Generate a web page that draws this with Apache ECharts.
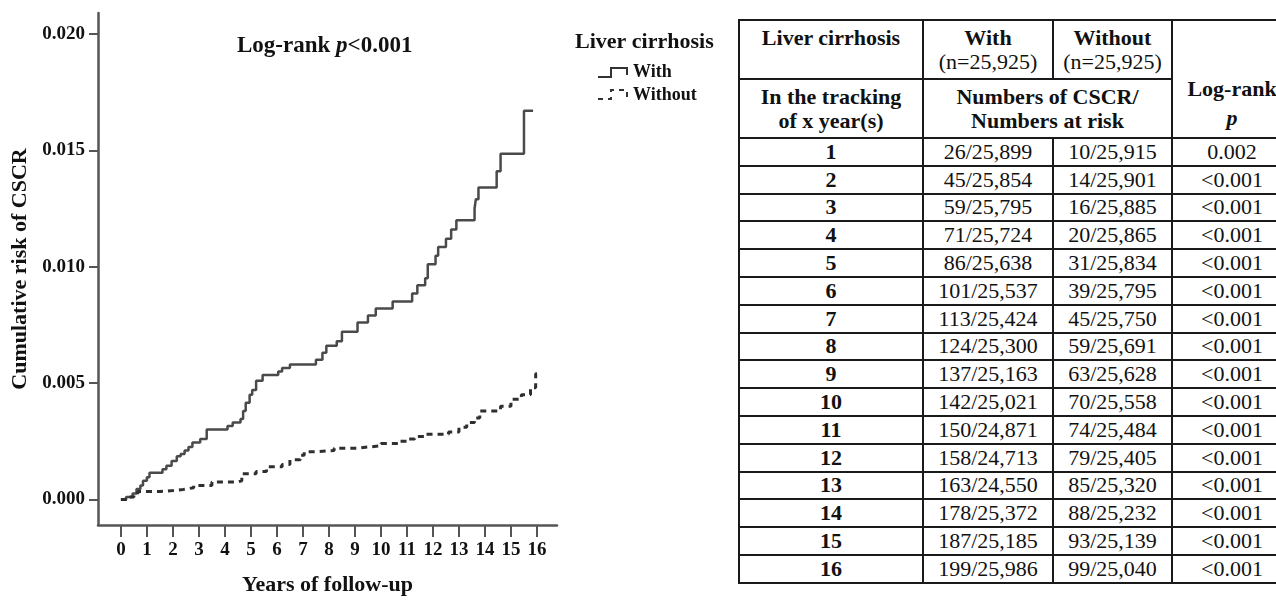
<!DOCTYPE html>
<html>
<head>
<meta charset="utf-8">
<script src="https://cdn.jsdelivr.net/npm/echarts@6/dist/echarts.min.js"></script>
<style>
  html, body { margin: 0; padding: 0; background: #fff; overflow: hidden; width: 1276px; height: 601px; }
  #chart { position: absolute; left: 0; top: 0; width: 730px; height: 601px; }
  #tbl {
    position: absolute; left: 738px; top: 19px; width: 553px;
    border-collapse: collapse; table-layout: fixed;
    font-family: "Liberation Serif", "Times New Roman", serif; font-size: 22px; color: #111;
  }
  #tbl td, #tbl th { border: 2px solid #1a1a1a; padding: 0; text-align: center; line-height: 24px; }
  #tbl th { font-weight: bold; vertical-align: top; padding-top: 5px; }
  #tbl .n { font-weight: normal; }
  #tbl th.lr { padding-top: 53px; line-height: 29px; }
  #tbl td { height: 25.8px; line-height: 24px; }
  #tbl td.yr { font-weight: bold; }
</style>
</head>
<body>
<div id="chart"></div>
<table id="tbl"></table>
<script>
// Kaplan-Meier style cumulative risk
var withTime = [0, 0.2, 0.45, 0.6, 0.75, 0.85, 1.0, 1.1, 1.6, 1.75, 1.95, 2.15, 2.3, 2.45, 2.6, 2.75, 3.05, 3.3,
    4.1, 4.3, 4.6, 4.7, 4.8, 4.95, 5.05, 5.2, 5.45, 6.05, 6.2, 6.5, 7.5, 7.75, 7.9, 8.3, 8.5, 9.1, 9.5, 9.8,
    10.45, 11.2, 11.4, 11.7, 11.8, 12.1, 12.2, 12.5, 12.7, 12.9, 13.6, 13.65, 13.75, 14.45, 14.6, 15.5, 15.85];
var withRisk = [0, 0.0001, 0.00025, 0.00045, 0.0006, 0.0008, 0.00095, 0.00115, 0.0013, 0.00145, 0.00165, 0.00185,
    0.00195, 0.0021, 0.00225, 0.00245, 0.0026, 0.003, 0.00315, 0.0033, 0.00345, 0.0038, 0.00415, 0.0045, 0.0047,
    0.0051, 0.00535, 0.0055, 0.00565, 0.0058, 0.006, 0.0063, 0.0066, 0.0068, 0.0072, 0.0076, 0.0079, 0.0082,
    0.0085, 0.00885, 0.0092, 0.0095, 0.0101, 0.01047, 0.01085, 0.0112, 0.0116, 0.012, 0.0125, 0.0129, 0.0134,
    0.0141, 0.01485, 0.0167, 0.0167];
var withoutTime = [0, 0.3, 0.5, 0.65, 1.5, 2.0, 2.4, 2.8, 3.5, 4.5, 4.65, 5.2, 5.6, 6.2, 6.5, 6.9, 7.05, 7.5, 8.2,
    9.1, 9.5, 10.0, 10.7, 11.0, 11.3, 11.7, 12.6, 13.0, 13.3, 13.6, 13.8, 14.6, 15.0, 15.4, 15.75, 15.95, 16.0];
var withoutRisk = [0, 0.0001, 0.0002, 0.00034, 0.00038, 0.00043, 0.0005, 0.0006, 0.00075, 0.0008, 0.0011, 0.0012,
    0.0014, 0.0015, 0.0017, 0.0019, 0.00205, 0.0021, 0.0022, 0.00225, 0.0023, 0.0024, 0.0025, 0.0026, 0.0027,
    0.0028, 0.0029, 0.0031, 0.0033, 0.0035, 0.0038, 0.004, 0.0043, 0.0045, 0.0048, 0.0054, 0.0054];

var xTicks = [0, 1, 2, 3, 4, 5, 6, 7, 8, 9, 10, 11, 12, 13, 14, 15, 16];
var yTicks = [0, 0.005, 0.010, 0.015, 0.020];

// table
var tableYears = [1, 2, 3, 4, 5, 6, 7, 8, 9, 10, 11, 12, 13, 14, 15, 16];
var withCounts = ['26/25,899', '45/25,854', '59/25,795', '71/25,724', '86/25,638', '101/25,537', '113/25,424',
    '124/25,300', '137/25,163', '142/25,021', '150/24,871', '158/24,713', '163/24,550', '178/25,372',
    '187/25,185', '199/25,986'];
var withoutCounts = ['10/25,915', '14/25,901', '16/25,885', '20/25,865', '31/25,834', '39/25,795', '45/25,750',
    '59/25,691', '63/25,628', '70/25,558', '74/25,484', '79/25,405', '85/25,320', '88/25,232', '93/25,139',
    '99/25,040'];
var logRankP = ['0.002', '<0.001', '<0.001', '<0.001', '<0.001', '<0.001', '<0.001', '<0.001', '<0.001',
    '<0.001', '<0.001', '<0.001', '<0.001', '<0.001', '<0.001', '<0.001'];

function zip(xs, ys) {
    var out = [];
    for (var i = 0; i < xs.length; i++) out.push([xs[i], ys[i]]);
    return out;
}
function esc(s) { return s.replace(/&/g, '&amp;').replace(/</g, '&lt;'); }

var font = '"Liberation Serif", "Times New Roman", serif';
var axisColor = '#555';

var chart = echarts.init(document.getElementById('chart'));
var option = {
    animation: false,
    title: {
        text: '{a|Log-rank }{b|p}{a|<0.001}',
        left: 232,
        top: 30,
        textStyle: {
            rich: {
                a: { fontFamily: font, fontWeight: 'bold', fontSize: 23, color: '#111' },
                b: { fontFamily: font, fontWeight: 'bold', fontStyle: 'italic', fontSize: 23, color: '#111' }
            }
        }
    },
    grid: { left: 98, top: 13, width: 459, height: 519 },
    xAxis: {
        type: 'value',
        min: -0.88,
        max: 16.77,
        name: 'Years of follow-up',
        nameLocation: 'middle',
        nameGap: 49,
        nameTextStyle: { fontFamily: font, fontWeight: 'bold', fontSize: 22, color: '#111' },
        axisLine: { onZero: false, lineStyle: { color: axisColor, width: 2.5 } },
        axisTick: { customValues: xTicks, length: 12, lineStyle: { color: axisColor, width: 2 } },
        axisLabel: { customValues: xTicks, margin: 16, fontFamily: font, fontWeight: 'bold', fontSize: 19, color: '#111' },
        splitLine: { show: false }
    },
    yAxis: {
        type: 'value',
        min: -0.0011,
        max: 0.0209,
        name: 'Cumulative risk of CSCR',
        nameLocation: 'middle',
        nameGap: 64,
        nameTextStyle: { fontFamily: font, fontWeight: 'bold', fontSize: 22, color: '#111' },
        axisLine: { onZero: false, lineStyle: { color: axisColor, width: 2.5 } },
        axisTick: { customValues: yTicks, length: 9, lineStyle: { color: axisColor, width: 2 } },
        axisLabel: {
            customValues: yTicks, margin: 13, fontFamily: font, fontWeight: 'bold', fontSize: 19, color: '#111',
            formatter: function (v) { return v.toFixed(3); }
        },
        splitLine: { show: false }
    },
    graphic: [
        { type: 'text', left: 575, top: 31, style: { text: 'Liver cirrhosis', font: 'bold 22px ' + font, fill: '#111' } },
        { type: 'polyline', shape: { points: [[598, 77], [611, 77], [611, 68], [627, 68], [627, 75]] },
          style: { stroke: '#333', lineWidth: 2, fill: null } },
        { type: 'text', left: 633, top: 63, style: { text: 'With', font: 'bold 18px ' + font, fill: '#111' } },
        { type: 'polyline', shape: { points: [[598, 99], [611, 99], [611, 90], [627, 90], [627, 97]] },
          style: { stroke: '#333', lineWidth: 2, lineDash: [5, 5], fill: null } },
        { type: 'text', left: 633, top: 86, style: { text: 'Without', font: 'bold 18px ' + font, fill: '#111' } }
    ],
    series: [
        {
            name: 'With',
            type: 'line',
            step: 'end',
            showSymbol: false,
            lineStyle: { color: '#4a4a4a', width: 2.5 },
            data: zip(withTime, withRisk)
        },
        {
            name: 'Without',
            type: 'line',
            step: 'end',
            showSymbol: false,
            lineStyle: { color: '#2f2f2f', width: 3, type: [6, 5] },
            data: zip(withoutTime, withoutRisk)
        }
    ]
};
chart.setOption(option);

// build the table from the arrays
var html = '<colgroup><col style="width:184px"><col style="width:130px"><col style="width:119px"><col style="width:120px"></colgroup>';
html += '<tr style="height:59px"><th>Liver cirrhosis</th><th>With<br><span class="n">(n=25,925)</span></th>' +
    '<th>Without<br><span class="n">(n=25,925)</span></th><th rowspan="2" class="lr">Log-rank<br><i>p</i></th></tr>';
html += '<tr style="height:59px"><th>In the tracking<br>of x year(s)</th><th colspan="2">Numbers of CSCR/<br>Numbers at risk</th></tr>';
for (var i = 0; i < tableYears.length; i++) {
    html += '<tr><td class="yr">' + tableYears[i] + '</td><td>' + esc(withCounts[i]) + '</td><td>' +
        esc(withoutCounts[i]) + '</td><td>' + esc(logRankP[i]) + '</td></tr>';
}
document.getElementById('tbl').innerHTML = html;
</script>
</body>
</html>
